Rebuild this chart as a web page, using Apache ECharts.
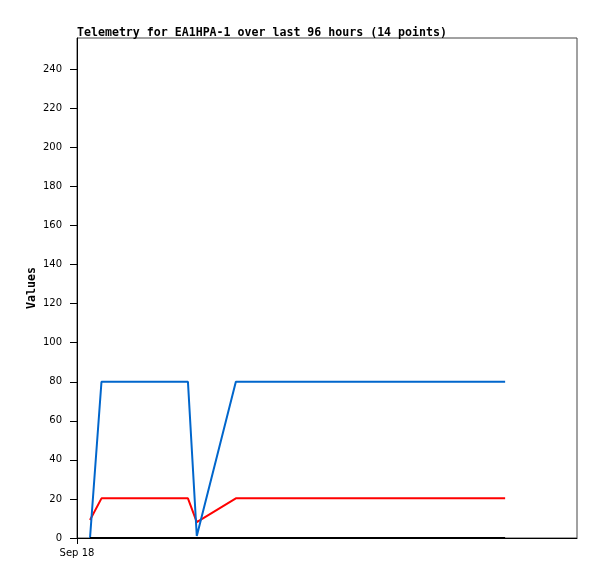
<!DOCTYPE html>
<html><head><meta charset="utf-8">
<script src="https://cdn.jsdelivr.net/npm/echarts@6/dist/echarts.min.js"></script>
<style>html,body{margin:0;padding:0;background:#fff}#c{width:597px;height:579px}</style>
</head><body><div id="c"></div>
<script>
// hours since Sep 18 00:00
const hours = [2.5, 4.7, 10, 16, 21.3, 23.0, 30.5, 40, 50, 60, 68, 74, 78, 82.2];
const blueVals = [0, 80, 80, 80, 80, 1, 80, 80, 80, 80, 80, 80, 80, 80];
const redVals = [9.2, 20.3, 20.3, 20.3, 20.3, 8.1, 20.3, 20.3, 20.3, 20.3, 20.3, 20.3, 20.3, 20.3];
const blackVals = [0, 0, 0, 0, 0, 0, 0, 0, 0, 0, 0, 0, 0, 0];
const yTicks = [0, 20, 40, 60, 80, 100, 120, 140, 160, 180, 200, 220, 240];
const xLabel = 'Sep 18';
const titleText = 'Telemetry for EA1HPA-1 over last 96 hours (14 points)';

const pair = vals => hours.map((h, i) => [h, vals[i]]);
const chart = echarts.init(document.getElementById('c'));
const mono = '"DejaVu Sans Mono", monospace';
chart.setOption({
  animation: false,
  title: { text: titleText, left: 72, top: 22, textStyle: { fontFamily: mono, fontWeight: 'bold', fontSize: 11.6, color: '#000' } },
  grid: { left: 77, top: 38, right: 20, bottom: 41, show: true, borderColor: '#444', borderWidth: 1, outerBoundsMode: 'none' },
  xAxis: {
    type: 'value', min: 0, max: 96, interval: 96,
    axisLine: { lineStyle: { color: '#000' } },
    axisTick: { length: 6, lineStyle: { color: '#000' } },
    splitLine: { show: false },
    axisLabel: { showMaxLabel: false, formatter: v => v === 0 ? xLabel : '', fontFamily: 'DejaVu Sans', fontSize: 10, color: '#000', margin: 10 }
  },
  yAxis: {
    type: 'value', min: 0, max: 256, interval: 20,
    name: 'Values', nameLocation: 'middle', nameGap: 39, nameMoveOverlap: false,
    nameTextStyle: { fontFamily: mono, fontWeight: 'bold', fontSize: 11.6, color: '#000' },
    axisLine: { show: true, lineStyle: { color: '#000' } },
    axisTick: { show: true, length: 7, lineStyle: { color: '#000' }, customValues: yTicks },
    splitLine: { show: false },
    axisLabel: { customValues: yTicks, fontFamily: 'DejaVu Sans', fontSize: 10, color: '#000', margin: 15 }
  },
  series: [
    { type: 'line', data: pair(redVals), showSymbol: false, lineStyle: { color: '#ff0000', width: 2 }, z: 2 },
    { type: 'line', data: pair(blueVals), showSymbol: false, lineStyle: { color: '#0066cc', width: 2 }, z: 3 },
    { type: 'line', data: pair(blackVals), showSymbol: false, lineStyle: { color: '#000000', width: 2 }, z: 4 }
  ]
});
</script></body></html>
